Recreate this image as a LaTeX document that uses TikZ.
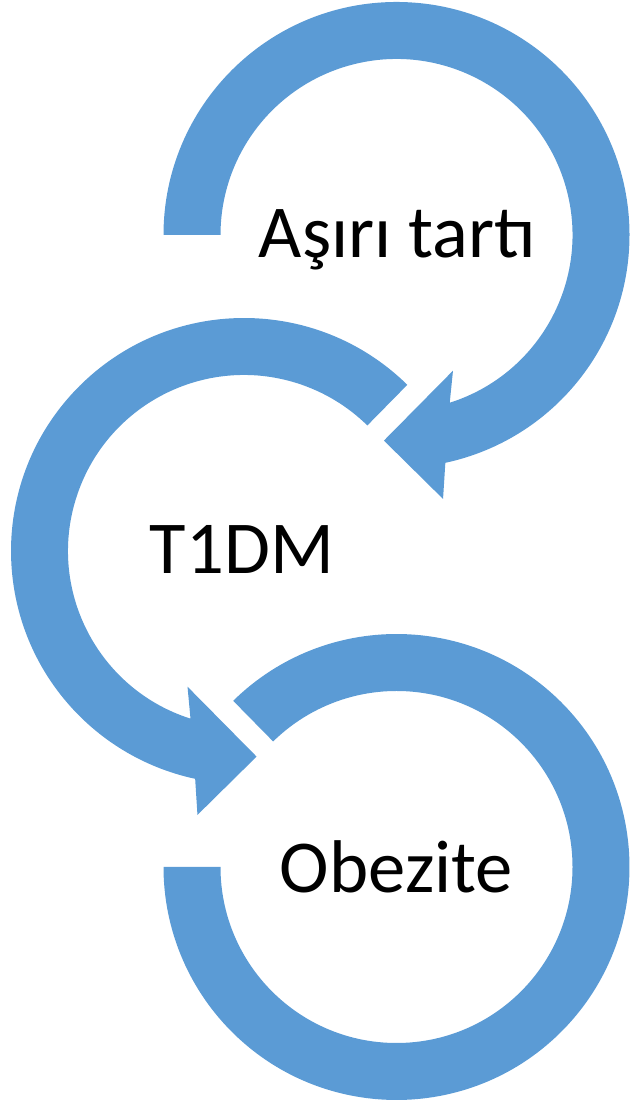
\documentclass[tikz,border=0pt]{standalone}
\usepackage{fontspec}
\setmainfont{Carlito}
\definecolor{arcblue}{RGB}{91,155,213}
\usetikzlibrary{positioning}

\begin{document}
\begin{tikzpicture}[x=0.02cm, y=0.02cm,
    arcfill/.style={fill=arcblue, draw=none},
    lbl/.style={font=\fontsize{42.5}{50}\selectfont, text=black, inner sep=0pt, anchor=base}]
  \useasboundingbox (0,0) rectangle (633,1101);
  \coordinate (c1) at (396.5,866);
  \coordinate (c2) at (244,550);
  \coordinate (c3) at (396.5,234);

  % first arrow: clockwise from the left end round to the arrowhead
  \fill[arcfill, shift={(c1)}] (180:233) arc[start angle=180, end angle=-77.9, radius=233]
    -- (-80:268) -- (-93.5:206) -- (-67.4:147) -- (-72.4:176)
    arc[start angle=-72.4, end angle=180, radius=176] -- cycle;

  % second arrow: counter-clockwise
  \fill[arcfill, shift={(c2)}] (45.5:233) arc[start angle=45.5, end angle=257.9, radius=233]
    -- (260:268) -- (273.5:206) -- (247.4:147) -- (252.3:176)
    arc[start angle=252.3, end angle=45.5, radius=176] -- cycle;

  % last one has no head
  \fill[arcfill, shift={(c3)}] (134.5:233) arc[start angle=134.5, end angle=-180, radius=233]
    -- (-180:176) arc[start angle=-180, end angle=134.5, radius=176] -- cycle;

  \node[lbl] (asiri) at ([xshift=0.02cm, yshift=-0.46cm]c1) {Aşırı tartı};
  \node[lbl] (tidm) at ([xshift=-0.04cm, yshift=-0.46cm]c2) {T1DM};
  \node[lbl] (obez) at ([yshift=-0.52cm]c3) {Obezite};
\end{tikzpicture}
\end{document}
